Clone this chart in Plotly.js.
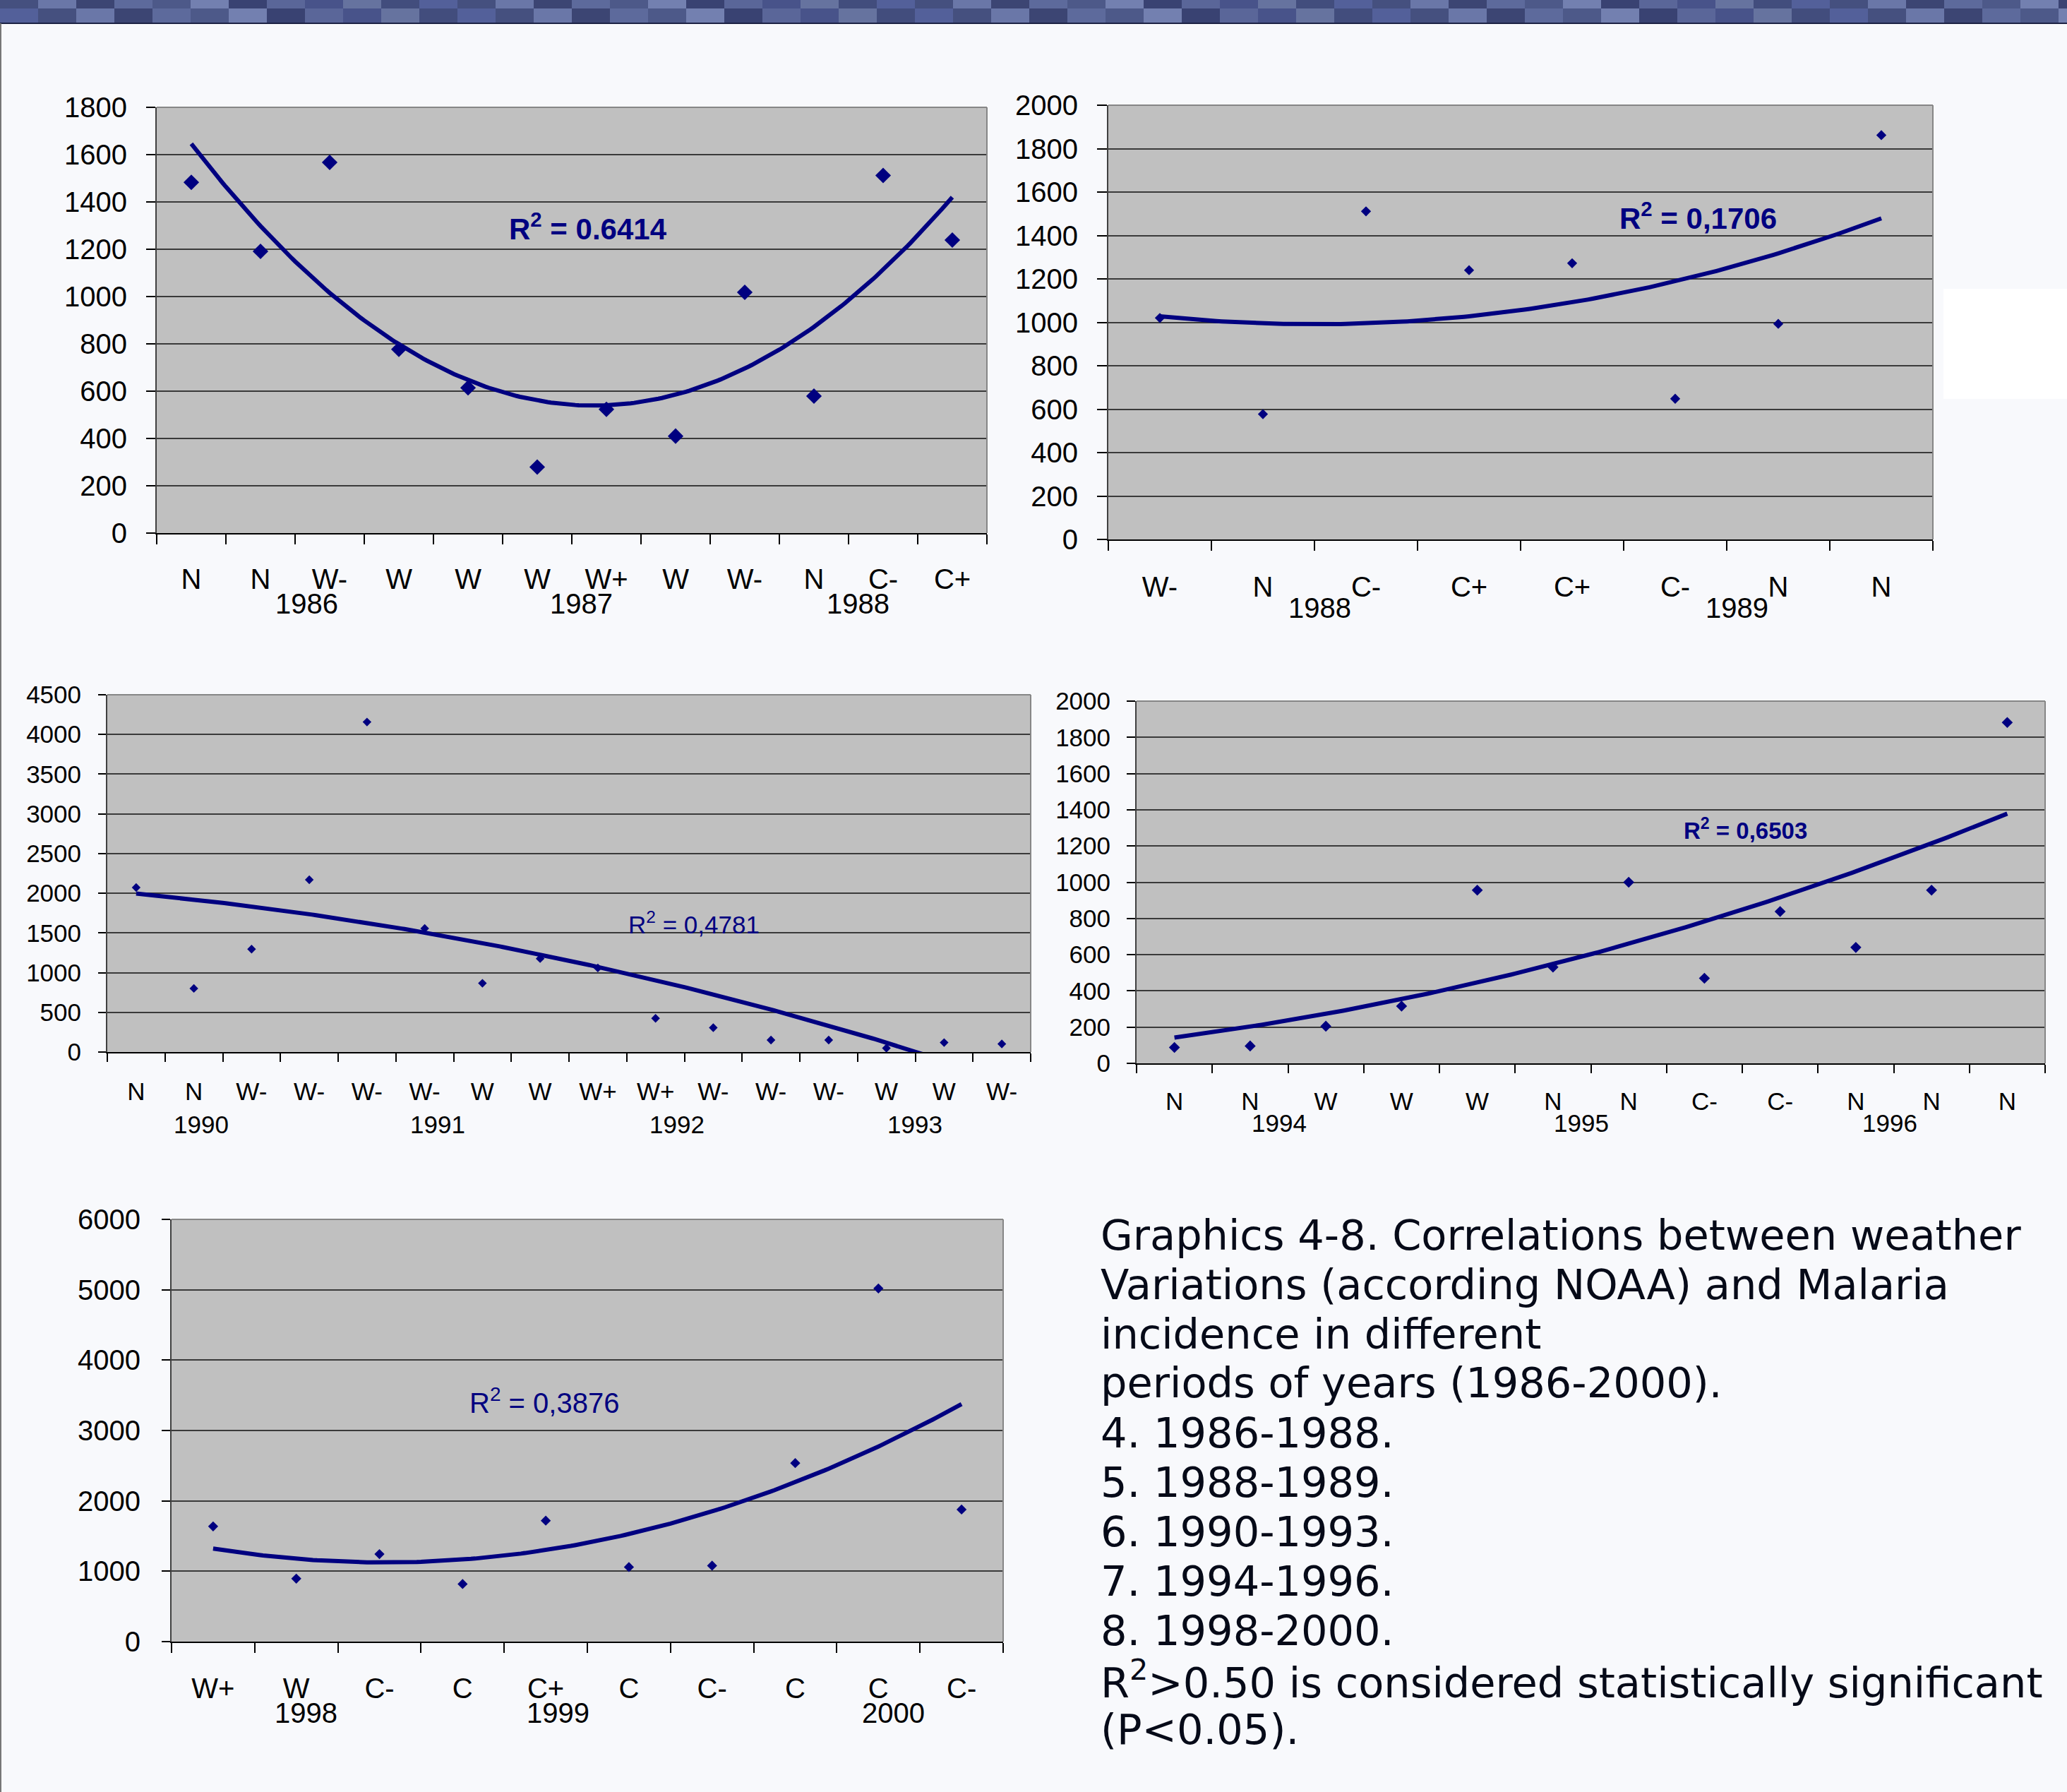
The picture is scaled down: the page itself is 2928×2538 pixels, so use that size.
<!DOCTYPE html>
<html><head><meta charset="utf-8">
<script src="https://cdn.plot.ly/plotly-3.0.1.min.js"></script>
<style>html,body{margin:0;padding:0;background:#f8f9fc;}#chart{width:2928px;height:2538px;}</style>
</head><body><div id="chart"></div>
<script>
// ---------- DATA ----------
// Graphic 4: 1986-1988
const cats1 = ['N','N','W-','W','W','W','W+','W','W-','N','C-','C+'];
const vals1 = [1483,1191,1567,777,614,279,523,410,1018,579,1512,1239];
const years1 = ['1986','1987','1988'];
const yearAt1 = [2.67,6.64,10.64];
const r2_1 = '0.6414';

// Graphic 5: 1988-1989
const cats2 = ['W-','N','C-','C+','C+','C-','N','N'];
const vals2 = [1020,577,1511,1240,1272,648,993,1862];
const years2 = ['1988','1989'];
const yearAt2 = [2.55,6.6];
const r2_2 = '0,1706';

// Graphic 6: 1990-1993
const cats3 = ['N','N','W-','W-','W-','W-','W','W','W+','W+','W-','W-','W-','W','W','W-'];
const vals3 = [2072,801,1296,2170,4157,1557,866,1177,1059,425,307,151,151,49,119,102];
const years3 = ['1990','1991','1992','1993'];
const yearAt3 = [2.13,6.22,10.37,14.49];
const r2_3 = '0,4781';

// Graphic 7: 1994-1996
const cats4 = ['N','N','W','W','W','N','N','C-','C-','N','N','N'];
const vals4 = [88,96,205,316,956,531,1000,470,838,640,956,1882];
const years4 = ['1994','1995','1996'];
const yearAt4 = [2.38,6.37,10.45];
const r2_4 = '0,6503';

// Graphic 8: 1998-2000
const cats5 = ['W+','W','C-','C','C+','C','C-','C','C','C-'];
const vals5 = [1637,895,1243,818,1719,1059,1079,2537,5018,1877];
const years5 = ['1998','1999','2000'];
const yearAt5 = [2.12,5.15,9.18];
const r2_5 = '0,3876';

const captionLines = [
  'Graphics 4-8. Correlations between weather',
  'Variations (according NOAA) and Malaria',
  'incidence in different',
  'periods of years (1986-2000).',
  '4. 1986-1988.',
  '5. 1988-1989.',
  '6. 1990-1993.',
  '7. 1994-1996.',
  '8. 1998-2000.',
  'R<sup>2</sup>&gt;0.50 is considered statistically significant',
  '(P&lt;0.05).'
];

// ---------- LAYOUT / STYLE ----------
const W = 2928, H = 2538;
const NAVY = '#000080';
const FONT = 'Liberation Sans, Arial, sans-serif';
const px = v => v / W;
const py = v => 1 - v / H;

const panels = [
  {cats:cats1, vals:vals1, years:years1, yearAt:yearAt1, r2:r2_1, bold:true,
   box:[222,152,1398,755], ymax:1800, dtick:200, fs:40, ms:17, r2xy:[833,321], r2fs:42,
   ytl:13, ystand:19, xtl:14, xstand:29, yearY:855},
  {cats:cats2, vals:vals2, years:years2, yearAt:yearAt2, r2:r2_2, bold:true,
   box:[1570,149,2738,764], ymax:2000, dtick:200, fs:40, ms:11, r2xy:[2405,306], r2fs:42,
   ytl:14, ystand:19, xtl:14, xstand:31, yearY:861},
  {cats:cats3, vals:vals3, years:years3, yearAt:yearAt3, r2:r2_3, bold:false,
   box:[152,984,1460,1490], ymax:4500, dtick:500, fs:35, ms:9.5, r2xy:[983,1307], r2fs:35,
   ytl:11, ystand:17, xtl:12, xstand:24, yearY:1592},
  {cats:cats4, vals:vals4, years:years4, yearAt:yearAt4, r2:r2_4, bold:true,
   box:[1610,993,2897,1506], ymax:2000, dtick:200, fs:35, ms:12, r2xy:[2472,1174], r2fs:33,
   ytl:12, ystand:16, xtl:12, xstand:22, yearY:1590},
  {cats:cats5, vals:vals5, years:years5, yearAt:yearAt5, r2:r2_5, bold:false,
   box:[243,1727,1421,2325], ymax:6000, dtick:1000, fs:40, ms:11, r2xy:[771,1984], r2fs:40,
   ytl:12, ystand:22, xtl:14, xstand:30, yearY:2426}
];

// least-squares 2nd order polynomial (Excel polynomial trendline)
function polyfit2(xs, ys) {
  const S = [0,0,0,0,0], T = [0,0,0];
  for (let i = 0; i < xs.length; i++) {
    let p = 1;
    for (let k = 0; k <= 4; k++) { S[k] += p; if (k <= 2) T[k] += ys[i] * p; p *= xs[i]; }
  }
  const M = [[S[0],S[1],S[2],T[0]],[S[1],S[2],S[3],T[1]],[S[2],S[3],S[4],T[2]]];
  for (let c = 0; c < 3; c++) {
    for (let r = c + 1; r < 3; r++) {
      const f = M[r][c] / M[c][c];
      for (let k = c; k < 4; k++) M[r][k] -= f * M[c][k];
    }
  }
  const sol = [0,0,0];
  for (let r = 2; r >= 0; r--) {
    let s = M[r][3];
    for (let k = r + 1; k < 3; k++) s -= M[r][k] * sol[k];
    sol[r] = s / M[r][r];
  }
  return sol;
}

const data = [];
const layout = {
  width: W, height: H,
  margin: {l:0, r:0, t:0, b:0},
  paper_bgcolor: '#f8f9fc',
  plot_bgcolor: '#c0c0c0',
  showlegend: false,
  font: {family: FONT, color: '#000'},
  annotations: [],
  shapes: [
    {type:'rect', xref:'paper', yref:'paper', x0:0, x1:1, y0:py(33), y1:1, fillcolor:'#4f5b8d', line:{width:0}, layer:'below'}
  ]
};

// decorative mosaic header band
const bandShades = ['#45507f','#5a6699','#3c4573','#66739f','#4d5989','#53609a','#394272','#6a77a8','#48538a','#5d6a9c','#424d7d','#7380b0'];
const tileW = 54;
for (let r = 0; r < 2; r++) {
  for (let c = 0; c * tileW < W; c++) {
    const col = bandShades[(c * 7 + r * 5) % bandShades.length];
    const y0 = r === 0 ? 0 : 12, y1 = r === 0 ? 12 : 33;
    layout.shapes.push({type:'rect', xref:'paper', yref:'paper', x0:px(c*tileW), x1:px(Math.min(W,(c+1)*tileW)),
      y0:py(y1), y1:py(y0), fillcolor:col, line:{width:0}, layer:'below'});
  }
}
layout.shapes.push(
  {type:'line', xref:'paper', yref:'paper', x0:0, x1:1, y0:py(33), y1:py(33), line:{color:'#1c2244', width:2}},
  {type:'line', xref:'paper', yref:'paper', x0:px(1), x1:px(1), y0:0, y1:py(33), line:{color:'#777', width:2}},
  {type:'rect', xref:'paper', yref:'paper', x0:px(2753), x1:1, y0:py(565), y1:py(409), fillcolor:'#ffffff', line:{width:0}, layer:'below'}
);

panels.forEach((p, i) => {
  const k = i + 1;
  const xa = 'x' + (k === 1 ? '' : k), ya = 'y' + (k === 1 ? '' : k);
  const xs = p.cats.map((_, j) => j + 1);
  const n = xs.length;

  // trendline
  const cf = polyfit2(xs, p.vals);
  const tx = [], ty = [];
  for (let t = 1; t <= n + 1e-9; t += 0.05) { tx.push(t); ty.push(cf[0] + cf[1]*t + cf[2]*t*t); }
  data.push({type:'scatter', mode:'lines', x:tx, y:ty, xaxis:xa, yaxis:ya,
    line:{color:NAVY, width:6}, hoverinfo:'skip'});
  // points
  data.push({type:'scatter', mode:'markers', x:xs, y:p.vals, xaxis:xa, yaxis:ya,
    marker:{symbol:'diamond', size:p.ms, color:NAVY, line:{width:0}}, cliponaxis:false});

  const minorVals = [];
  for (let j = 0; j <= n; j++) minorVals.push(j + 0.5);

  layout['xaxis' + (k === 1 ? '' : k)] = {
    domain:[px(p.box[0]), px(p.box[2])], anchor:ya,
    range:[0.5, n + 0.5], tickmode:'array', tickvals:xs, ticktext:p.cats,
    ticks:'', showgrid:false, zeroline:false,
    showline:true, linecolor:'#000', linewidth:2,
    tickfont:{family:FONT, size:p.fs, color:'#000'},
    ticklabelstandoff:p.xstand,
    minor:{tickmode:'array', tickvals:minorVals, ticks:'outside', ticklen:p.xtl, tickcolor:'#000', tickwidth:2, showgrid:false},
    fixedrange:true
  };
  layout['yaxis' + (k === 1 ? '' : k)] = {
    domain:[py(p.box[3]), py(p.box[1])], anchor:xa,
    range:[0, p.ymax], tick0:0, dtick:p.dtick,
    ticks:'outside', ticklen:p.ytl, tickcolor:'#000', tickwidth:2,
    showgrid:true, gridcolor:'#3a3a3a', gridwidth:2,
    zeroline:false, showline:true, linecolor:'#404040', linewidth:2,
    tickfont:{family:FONT, size:p.fs, color:'#000'},
    ticklabelstandoff:p.ystand,
    fixedrange:true
  };

  // plot area border (top & right, grey)
  layout.shapes.push({type:'line', xref:xa + ' domain', yref:ya + ' domain', x0:0, x1:1, y0:1, y1:1, line:{color:'#868686', width:2}, layer:'above'});
  layout.shapes.push({type:'line', xref:xa + ' domain', yref:ya + ' domain', x0:1, x1:1, y0:0, y1:1, line:{color:'#868686', width:2}, layer:'above'});

  // year labels
  p.years.forEach((yr, j) => {
    layout.annotations.push({xref:xa, yref:'paper', x:p.yearAt[j], y:py(p.yearY),
      text:yr, showarrow:false, xanchor:'center', yanchor:'middle',
      font:{family:FONT, size:p.fs, color:'#000'}});
  });

  // R² label
  const r2txt = 'R<sup>2</sup> = ' + p.r2;
  layout.annotations.push({xref:'paper', yref:'paper', x:px(p.r2xy[0]), y:py(p.r2xy[1]),
    text: p.bold ? '<b>' + r2txt + '</b>' : r2txt, showarrow:false, xanchor:'center', yanchor:'middle',
    font:{family:FONT, size:p.r2fs, color:NAVY}});
});

// caption block
captionLines.forEach((ln, i) => {
  layout.annotations.push({xref:'paper', yref:'paper', x:px(1557), y:py(1749 + 70 * i),
    text:ln, showarrow:false, xanchor:'left', yanchor:'middle', align:'left',
    font:{family:'DejaVu Sans, Verdana, sans-serif', size:59, color:'#060a18'}});
});

Plotly.newPlot('chart', data, layout, {staticPlot:true, displayModeBar:false});
</script>
</body></html>
